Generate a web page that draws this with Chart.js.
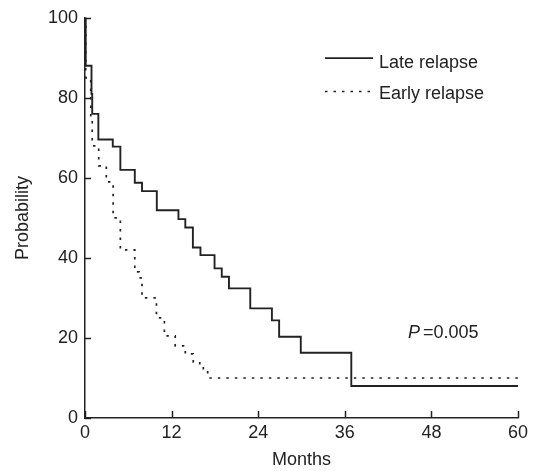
<!DOCTYPE html>
<html>
<head>
<meta charset="utf-8">
<script src="https://cdn.jsdelivr.net/npm/chart.js@4/dist/chart.umd.min.js"></script>
<style>
  html, body { margin: 0; padding: 0; background: #ffffff; }
  #wrap { width: 541px; height: 471px; }
</style>
</head>
<body>
<div id="wrap"><canvas id="c" width="541" height="471"></canvas></div>
<script>
// ---- data (Kaplan–Meier step curves) ----
const seriesNames = ['Late relapse', 'Early relapse'];
const lateMonths = [0, 0.1, 0.9, 1.0, 1.85, 3.85, 4.9, 6.9, 7.9, 9.95, 12.95, 13.9, 14.95, 16.0, 17.95, 18.95, 19.95, 22.9, 25.9, 26.9, 29.9, 36.9, 60];
const lateProb   = [100, 88, 81, 76, 69.6, 67.8, 62, 58.8, 56.7, 51.9, 49.7, 47.6, 42.6, 40.7, 37.4, 35.3, 32.4, 27.4, 24.4, 20.3, 16.3, 8.0, 8.0];
const earlyMonths = [0, 0.1, 0.8, 1.0, 1.9, 2.95, 3.9, 4.9, 6.9, 7.5, 7.9, 9.9, 11.0, 12.5, 13.9, 15.0, 15.9, 16.4, 17.0, 60];
const earlyProb   = [100, 85, 75, 68, 63, 59, 50, 42, 36.5, 35, 30, 25, 20.5, 18, 16, 14, 13, 12, 10, 10];
const xTickValues = [0, 12, 24, 36, 48, 60];
const yTickValues = [0, 20, 40, 60, 80, 100];
const xTitle = 'Months';
const yTitle = 'Probability';
const pLabel = 'P';
const pValue = '=0.005';

const INK = '#222222';
const FONT = '"Liberation Sans", Arial, Helvetica, sans-serif';

const toPoints = (xs, ys) => xs.map((m, i) => ({ x: m, y: ys[i] }));

const inwardTicks = {
  id: 'inwardTicks',
  afterDraw(chart) {
    const { ctx, scales: { x, y } } = chart;
    ctx.save();
    ctx.strokeStyle = INK;
    ctx.lineWidth = 1.5;
    x.ticks.forEach(t => {
      const px = Math.round(x.getPixelForValue(t.value)) + 0.5;
      ctx.beginPath(); ctx.moveTo(px, x.top); ctx.lineTo(px, x.top - 7); ctx.stroke();
    });
    y.ticks.forEach(t => {
      const py = Math.round(y.getPixelForValue(t.value)) + 0.5;
      ctx.beginPath(); ctx.moveTo(y.right, py); ctx.lineTo(y.right + 6, py); ctx.stroke();
    });
    ctx.restore();
  }
};

const customLegend = {
  id: 'customLegend',
  afterDraw(chart) {
    const { ctx, chartArea: a } = chart;
    const ds = chart.data.datasets;
    const rows = [
      { lineY: a.top + 40.3, baseY: a.top + 49.7 },
      { lineY: a.top + 73.7, baseY: a.top + 81.3 }
    ];
    ctx.save();
    rows.forEach((r, i) => {
      const d = ds[i];
      ctx.strokeStyle = d.borderColor;
      ctx.lineWidth = d.borderWidth;
      ctx.setLineDash(d.borderDash || []);
      ctx.beginPath();
      ctx.moveTo(a.left + 240, r.lineY);
      ctx.lineTo(a.left + 288, r.lineY);
      ctx.stroke();
      ctx.setLineDash([]);
      ctx.fillStyle = INK;
      ctx.font = '18px ' + FONT;
      ctx.textAlign = 'left';
      ctx.textBaseline = 'alphabetic';
      ctx.fillText(d.label, a.left + 294, r.baseY);
    });
    // P value annotation
    ctx.fillStyle = INK;
    ctx.textBaseline = 'alphabetic';
    ctx.font = 'italic 18px ' + FONT;
    ctx.fillText(pLabel, a.left + 323, a.top + 320.3);
    ctx.font = '18px ' + FONT;
    ctx.fillText(pValue, a.left + 338, a.top + 320.3);
    ctx.restore();
  }
};

new Chart(document.getElementById('c'), {
  type: 'line',
  data: {
    datasets: [
      {
        label: seriesNames[0],
        data: toPoints(lateMonths, lateProb),
        borderColor: INK,
        borderWidth: 1.9,
        stepped: true,
        pointRadius: 0,
        fill: false
      },
      {
        label: seriesNames[1],
        data: toPoints(earlyMonths, earlyProb),
        borderColor: INK,
        borderWidth: 1.7,
        borderDash: [2.5, 6],
        stepped: true,
        pointRadius: 0,
        fill: false
      }
    ]
  },
  options: {
    responsive: false,
    animation: false,
    devicePixelRatio: 1,
    layout: { padding: { top: 17, right: 23, bottom: 0, left: 0 } },
    plugins: {
      legend: { display: false },
      tooltip: { enabled: false }
    },
    scales: {
      x: {
        type: 'linear',
        min: 0, max: 60,
        afterBuildTicks: s => { s.ticks = xTickValues.map(v => ({ value: v })); },
        afterFit: s => { s.height = 53; },
        grid: { display: false, drawTicks: false },
        border: { display: true, color: INK, width: 1.5 },
        ticks: { color: INK, padding: 4, maxRotation: 0, autoSkip: false, font: { family: FONT, size: 18 } },
        title: { display: true, text: xTitle, color: INK, font: { family: FONT, size: 18 }, padding: { top: 0, bottom: 0.5 } }
      },
      y: {
        type: 'linear',
        min: 0, max: 100,
        afterBuildTicks: s => { s.ticks = yTickValues.map(v => ({ value: v })); },
        afterFit: s => { s.width = 85; },
        grid: { display: false, drawTicks: false },
        border: { display: true, color: INK, width: 1.5 },
        ticks: { color: INK, padding: 7, font: { family: FONT, size: 18 } },
        title: { display: true, text: yTitle, color: INK, font: { family: FONT, size: 18 }, padding: { top: 12.5, bottom: 0 } }
      }
    }
  },
  plugins: [inwardTicks, customLegend]
});
</script>
</body>
</html>
